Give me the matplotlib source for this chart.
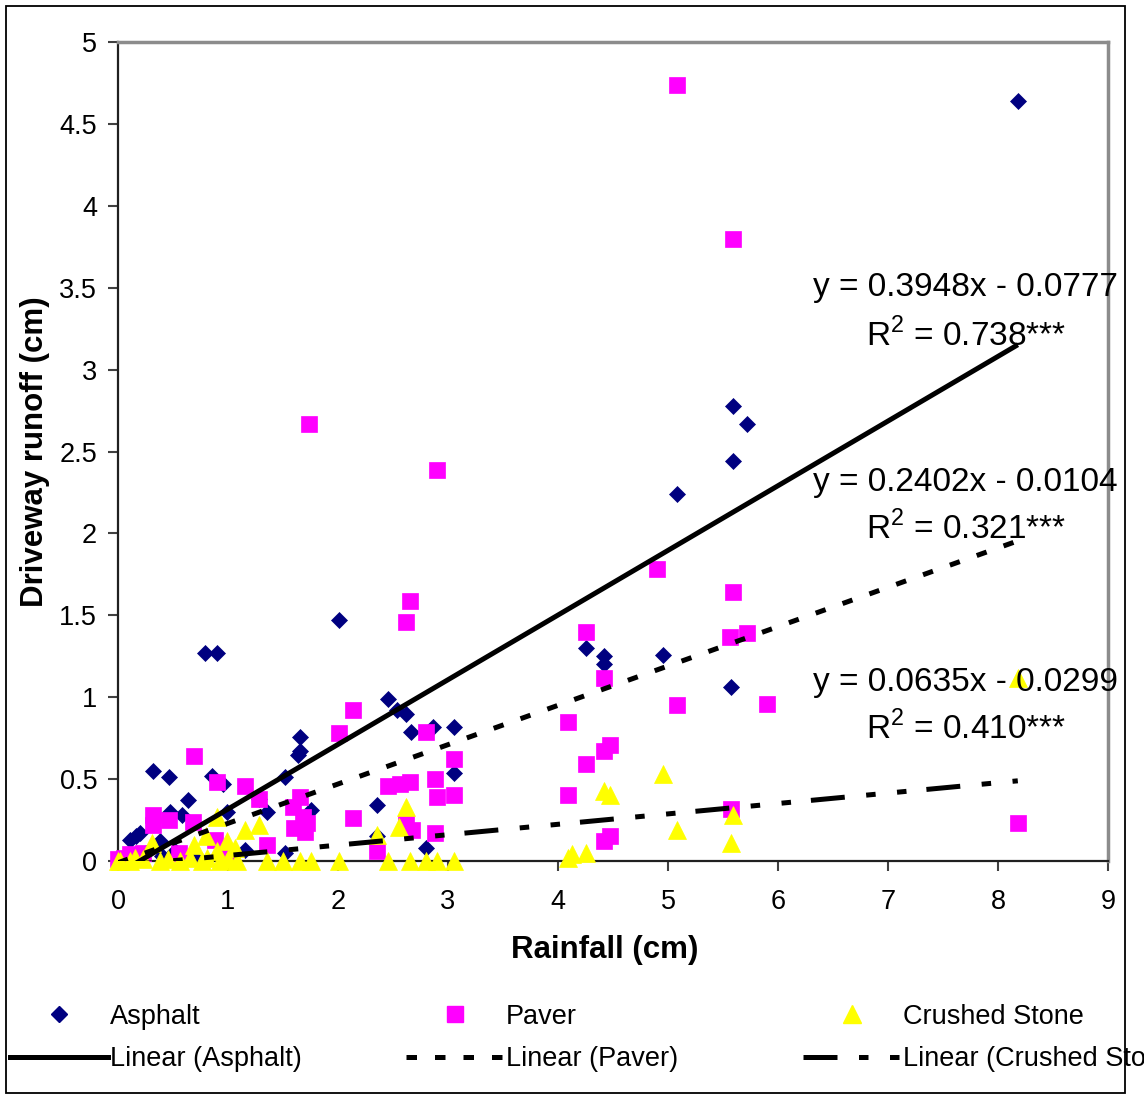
# -*- coding: utf-8 -*-

import numpy as np
import matplotlib
matplotlib.use("Agg")
import matplotlib.pyplot as plt
from matplotlib.lines import Line2D
from matplotlib.patches import Rectangle

plt.rcParams['font.family'] = ['Liberation Sans', 'DejaVu Sans']
plt.rcParams['mathtext.fontset'] = 'custom'
plt.rcParams['mathtext.rm'] = 'Liberation Sans'

# 降雨量 (cm) 与车道径流 (cm)
asphalt_x = [0.03, 0.08, 0.11, 0.16, 0.20, 0.25, 0.32, 0.38, 0.40, 0.46,
             0.47, 0.52, 0.58, 0.64, 0.70, 0.79, 0.85, 0.90, 0.95, 0.99,
             1.06, 1.15, 1.35, 1.28, 1.52, 1.52, 1.64, 1.65, 1.65, 1.75,
             2.01, 2.35, 2.35, 2.45, 2.54, 2.62, 2.66, 2.80, 2.86, 3.05,
             3.05, 4.25, 4.42, 4.42, 4.95, 5.08, 5.57, 5.59, 5.59, 5.72,
             8.18]
asphalt_y = [0.01, 0.02, 0.13, 0.15, 0.17, 0.05, 0.55, 0.12, 0.03, 0.51,
             0.30, 0.06, 0.28, 0.37, 0.02, 1.27, 0.52, 1.27, 0.47, 0.30,
             0.04, 0.07, 0.30, 0.38, 0.51, 0.05, 0.65, 0.67, 0.76, 0.31,
             1.47, 0.34, 0.15, 0.99, 0.92, 0.90, 0.79, 0.08, 0.82, 0.82,
             0.54, 1.30, 1.25, 1.20, 1.26, 2.24, 1.06, 2.78, 2.44, 2.67,
             4.64]

paver_x = [0.00, 0.05, 0.11, 0.23, 0.32, 0.32, 0.46, 0.55, 0.68, 0.69,
           0.88, 0.90, 1.00, 1.15, 1.28, 1.35, 1.59, 1.60, 1.65, 1.68,
           1.70, 1.72, 1.74, 2.01, 2.14, 2.14, 2.35, 2.45, 2.56, 2.62,
           2.62, 2.65, 2.65, 2.67, 2.80, 2.88, 2.88, 2.90, 2.90, 3.05,
           3.05, 4.09, 4.09, 4.25, 4.25, 4.42, 4.42, 4.42, 4.47, 4.47,
           4.90, 5.08, 5.08, 5.56, 5.57, 5.59, 5.59, 5.72, 5.90, 8.18]
paver_y = [0.01, 0.02, 0.04, 0.05, 0.28, 0.22, 0.25, 0.05, 0.24, 0.64,
           0.13, 0.48, 0.03, 0.46, 0.38, 0.10, 0.33, 0.20, 0.39, 0.27,
           0.18, 0.23, 2.67, 0.78, 0.92, 0.26, 0.06, 0.46, 0.47, 1.46,
           0.23, 1.59, 0.48, 0.19, 0.79, 0.50, 0.17, 2.39, 0.39, 0.62,
           0.40, 0.85, 0.40, 1.40, 0.59, 1.12, 0.67, 0.12, 0.71, 0.15,
           1.78, 4.74, 0.95, 1.37, 0.32, 3.80, 1.64, 1.39, 0.96, 0.23]

stone_x = [0.00, 0.02, 0.11, 0.15, 0.23, 0.31, 0.38, 0.45, 0.56, 0.65,
           0.69, 0.76, 0.80, 0.81, 0.90, 0.90, 0.93, 0.99, 1.00, 1.06,
           1.08, 1.15, 1.28, 1.35, 1.50, 1.65, 1.75, 2.01, 2.35, 2.45,
           2.55, 2.62, 2.65, 2.80, 2.90, 3.05, 4.09, 4.13, 4.25, 4.42,
           4.47, 4.95, 5.08, 5.57, 5.59, 8.18]
stone_y = [0.00, 0.00, 0.00, 0.02, 0.01, 0.11, 0.00, 0.01, 0.00, 0.02,
           0.10, 0.00, 0.15, 0.02, 0.27, 0.06, 0.00, 0.12, 0.01, 0.08,
           0.00, 0.19, 0.22, 0.00, 0.00, 0.00, 0.00, 0.00, 0.16, 0.00,
           0.21, 0.33, 0.00, 0.00, 0.00, 0.00, 0.02, 0.04, 0.05, 0.43,
           0.40, 0.53, 0.19, 0.11, 0.28, 1.12]

# 线性拟合结果 (斜率, 截距, R2文本)
fit_asphalt = (0.3948, -0.0777, "0.738***")
fit_paver = (0.2402, -0.0104, "0.321***")
fit_stone = (0.0635, -0.0299, "0.410***")

x_ticks = list(range(0, 10))
y_ticks = [0, 0.5, 1, 1.5, 2, 2.5, 3, 3.5, 4, 4.5, 5]
y_tick_labels = ["0", "0.5", "1", "1.5", "2", "2.5", "3", "3.5", "4", "4.5", "5"]

W, H = 1144, 1095
fig = plt.figure(figsize=(W / 100, H / 100), dpi=100)
ax = fig.add_axes([118 / W, 1 - 861 / H, (1108 - 118) / W, (861 - 42) / H])

navy, pink, yellow = "#000080", "#FF00FF", "#FFFF00"
mk_asphalt = dict(marker="D", ms=8.3, color=navy)
mk_paver = dict(marker="s", ms=11.5, color=pink)
mk_stone = dict(marker="^", ms=12.5, color=yellow)

ax.plot(asphalt_x, asphalt_y, linestyle="none", mec=navy, mew=0.5,
        clip_on=False, zorder=3, **mk_asphalt)
ax.plot(paver_x, paver_y, linestyle="none", mec=pink, mew=0.5,
        clip_on=False, zorder=4, **mk_paver)
ax.plot(stone_x, stone_y, linestyle="none", mec=yellow, mew=0.5,
        clip_on=False, zorder=5, **mk_stone)

lw = 3.6
styles = {
    "asphalt": dict(linestyle="-"),
    "paver": dict(dashes=(2.1, 3.6)),
    "stone": dict(dashes=(6.8, 4.3, 1.9, 4.3, 1.9, 4.0)),
}


def trend(xs, fit, style):
    xx = np.array([min(xs), max(xs)])
    ax.plot(xx, fit[0] * xx + fit[1], color="black", lw=lw,
            solid_capstyle="butt", dash_capstyle="butt", zorder=6, **style)


trend(asphalt_x, fit_asphalt, styles["asphalt"])
trend(paver_x, fit_paver, styles["paver"])
trend(stone_x, fit_stone, styles["stone"])

# 方程标注
eq_fs = 24
for fit, y_eq, y_r2 in [(fit_asphalt, 3.50, 3.21),
                        (fit_paver, 2.31, 2.03),
                        (fit_stone, 1.09, 0.81)]:
    ax.text(6.32, y_eq, "y = {:.4f}x - {:.4f}".format(fit[0], -fit[1]),
            fontsize=eq_fs, va="center", ha="left", clip_on=False, zorder=7)
    ax.text(6.80, y_r2, "R$^2$ = " + fit[2],
            fontsize=eq_fs, va="center", ha="left", clip_on=False, zorder=7)

ax.set_xlim(0, 9)
ax.set_ylim(0, 5)
ax.set_xticks(x_ticks)
ax.set_xticklabels([str(t) for t in x_ticks])
ax.set_yticks(y_ticks)
ax.set_yticklabels(y_tick_labels)
ax.tick_params(axis="both", direction="out", length=7, width=1.5,
               color="#404040", labelsize=19.5)
ax.tick_params(axis="x", pad=13)
ax.tick_params(axis="y", pad=8)

for side in ["left", "bottom"]:
    ax.spines[side].set_color("#202020")
    ax.spines[side].set_linewidth(1.6)
for side in ["top", "right"]:
    ax.spines[side].set_color("#8c8c8c")
    ax.spines[side].set_linewidth(2.5)

ax.set_xlabel("Rainfall (cm)", fontsize=22.5, fontweight="bold", va="center")
ax.set_ylabel("Driveway runoff (cm)", fontsize=22.5, fontweight="bold",
              va="center")
ax.xaxis.set_label_coords(0.492, (861 - 950) / 819)
ax.yaxis.set_label_coords((35 - 118) / 990, 0.5)

# 图例：三列，每列 标记 + 趋势线
series = [
    ("Asphalt", mk_asphalt, styles["asphalt"], 10),
    ("Paver", mk_paver, styles["paver"], 406),
    ("Crushed Stone", mk_stone, styles["stone"], 803),
]
for name, mk, ls, x0 in series:
    h1 = Line2D([], [], linestyle="none", mec=mk["color"], **mk)
    h2 = Line2D([], [], color="black", lw=lw, dash_capstyle="butt", **ls)
    fig.legend(handles=[h1, h2], labels=[name, "Linear ({})".format(name)],
               loc="center left", bbox_to_anchor=(x0 / W, 1 - 1038 / H),
               frameon=False, fontsize=19.5, handlelength=3.6,
               handletextpad=0.1, borderpad=0, borderaxespad=0,
               labelspacing=0.6)

fig.add_artist(Rectangle((6 / W, 1 - 1093 / H), (1125 - 6) / W, (1093 - 6) / H,
                         transform=fig.transFigure, fill=False,
                         edgecolor="black", lw=1.3))

fig.savefig("out.png", dpi=100)
